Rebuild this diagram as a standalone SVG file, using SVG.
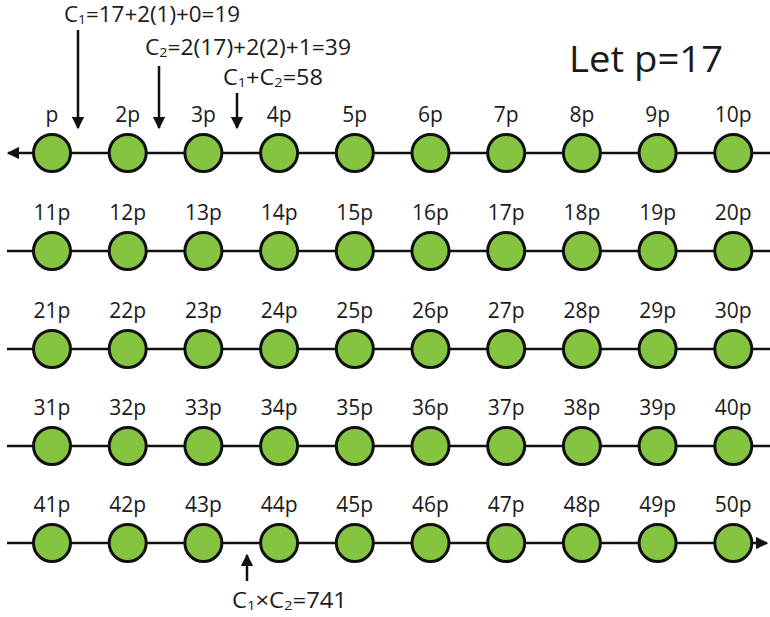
<svg xmlns="http://www.w3.org/2000/svg" width="770" height="617" viewBox="0 0 770 617">
<defs>
<style>
.ln{stroke:#111;stroke-width:2.5;fill:none}
.nd{fill:#85c441;stroke:#111;stroke-width:3}
.lb{font-family:"Open Sans","Liberation Sans",sans-serif;font-size:21px;fill:#1a1a1a;text-anchor:middle}
.an{font-family:"Open Sans","Liberation Sans",sans-serif;font-size:21px;fill:#1a1a1a}
.sb{font-size:13px}
</style>
<marker id="ah" viewBox="0 0 10 10" refX="9" refY="5" markerWidth="5" markerHeight="5" orient="auto-start-reverse" markerUnits="strokeWidth">
<path d="M0,0 L10,5 L0,10 z" fill="#111"/>
</marker>
</defs>
<rect width="770" height="617" fill="#fff"/>
<g id="connectors">
<line class="ln" x1="8" y1="153" x2="770" y2="153" marker-start="url(#ah)"/>
<line class="ln" x1="7" y1="251" x2="770" y2="251"/>
<line class="ln" x1="7" y1="349" x2="770" y2="349"/>
<line class="ln" x1="7" y1="446" x2="770" y2="446"/>
<line class="ln" x1="7" y1="543" x2="767" y2="543" marker-end="url(#ah)"/>
<line class="ln" x1="78" y1="30" x2="78" y2="128" marker-end="url(#ah)"/>
<line class="ln" x1="159" y1="66" x2="159" y2="128" marker-end="url(#ah)"/>
<line class="ln" x1="237" y1="93" x2="237" y2="128" marker-end="url(#ah)"/>
<line class="ln" x1="247" y1="581" x2="247" y2="555" marker-end="url(#ah)"/>
</g>
<g id="annotations">
<text class="an" x="64" y="22" textLength="176" lengthAdjust="spacingAndGlyphs">C<tspan class="sb" dy="2">1</tspan><tspan dy="-2">=17+2(1)+0=19</tspan></text>
<text class="an" x="145" y="55" textLength="206" lengthAdjust="spacingAndGlyphs">C<tspan class="sb" dy="2">2</tspan><tspan dy="-2">=2(17)+2(2)+1=39</tspan></text>
<text class="an" x="223" y="85" textLength="100" lengthAdjust="spacingAndGlyphs">C<tspan class="sb" dy="2">1</tspan><tspan dy="-2">+C</tspan><tspan class="sb" dy="2">2</tspan><tspan dy="-2">=58</tspan></text>
<text class="an" x="232" y="608" textLength="115" lengthAdjust="spacingAndGlyphs">C<tspan class="sb" dy="2">1</tspan><tspan dy="-2">×C</tspan><tspan class="sb" dy="2">2</tspan><tspan dy="-2">=741</tspan></text>
<text x="569" y="72" font-family="Open Sans, Liberation Sans, sans-serif" font-size="37" fill="#1a1a1a" textLength="154" lengthAdjust="spacingAndGlyphs">Let p=17</text>
</g>
<g id="n1"><circle class="nd" cx="52" cy="153" r="18.5"/><text class="lb" x="52" y="122">p</text></g>
<g id="n2"><circle class="nd" cx="127.7" cy="153" r="18.5"/><text class="lb" x="127.7" y="122">2p</text></g>
<g id="n3"><circle class="nd" cx="203.4" cy="153" r="18.5"/><text class="lb" x="203.4" y="122">3p</text></g>
<g id="n4"><circle class="nd" cx="279.1" cy="153" r="18.5"/><text class="lb" x="279.1" y="122">4p</text></g>
<g id="n5"><circle class="nd" cx="354.8" cy="153" r="18.5"/><text class="lb" x="354.8" y="122">5p</text></g>
<g id="n6"><circle class="nd" cx="430.5" cy="153" r="18.5"/><text class="lb" x="430.5" y="122">6p</text></g>
<g id="n7"><circle class="nd" cx="506.2" cy="153" r="18.5"/><text class="lb" x="506.2" y="122">7p</text></g>
<g id="n8"><circle class="nd" cx="581.9" cy="153" r="18.5"/><text class="lb" x="581.9" y="122">8p</text></g>
<g id="n9"><circle class="nd" cx="657.6" cy="153" r="18.5"/><text class="lb" x="657.6" y="122">9p</text></g>
<g id="n10"><circle class="nd" cx="733.3" cy="153" r="18.5"/><text class="lb" x="733.3" y="122">10p</text></g>
<g id="n11"><circle class="nd" cx="52" cy="251" r="18.5"/><text class="lb" x="52" y="220">11p</text></g>
<g id="n12"><circle class="nd" cx="127.7" cy="251" r="18.5"/><text class="lb" x="127.7" y="220">12p</text></g>
<g id="n13"><circle class="nd" cx="203.4" cy="251" r="18.5"/><text class="lb" x="203.4" y="220">13p</text></g>
<g id="n14"><circle class="nd" cx="279.1" cy="251" r="18.5"/><text class="lb" x="279.1" y="220">14p</text></g>
<g id="n15"><circle class="nd" cx="354.8" cy="251" r="18.5"/><text class="lb" x="354.8" y="220">15p</text></g>
<g id="n16"><circle class="nd" cx="430.5" cy="251" r="18.5"/><text class="lb" x="430.5" y="220">16p</text></g>
<g id="n17"><circle class="nd" cx="506.2" cy="251" r="18.5"/><text class="lb" x="506.2" y="220">17p</text></g>
<g id="n18"><circle class="nd" cx="581.9" cy="251" r="18.5"/><text class="lb" x="581.9" y="220">18p</text></g>
<g id="n19"><circle class="nd" cx="657.6" cy="251" r="18.5"/><text class="lb" x="657.6" y="220">19p</text></g>
<g id="n20"><circle class="nd" cx="733.3" cy="251" r="18.5"/><text class="lb" x="733.3" y="220">20p</text></g>
<g id="n21"><circle class="nd" cx="52" cy="349" r="18.5"/><text class="lb" x="52" y="318">21p</text></g>
<g id="n22"><circle class="nd" cx="127.7" cy="349" r="18.5"/><text class="lb" x="127.7" y="318">22p</text></g>
<g id="n23"><circle class="nd" cx="203.4" cy="349" r="18.5"/><text class="lb" x="203.4" y="318">23p</text></g>
<g id="n24"><circle class="nd" cx="279.1" cy="349" r="18.5"/><text class="lb" x="279.1" y="318">24p</text></g>
<g id="n25"><circle class="nd" cx="354.8" cy="349" r="18.5"/><text class="lb" x="354.8" y="318">25p</text></g>
<g id="n26"><circle class="nd" cx="430.5" cy="349" r="18.5"/><text class="lb" x="430.5" y="318">26p</text></g>
<g id="n27"><circle class="nd" cx="506.2" cy="349" r="18.5"/><text class="lb" x="506.2" y="318">27p</text></g>
<g id="n28"><circle class="nd" cx="581.9" cy="349" r="18.5"/><text class="lb" x="581.9" y="318">28p</text></g>
<g id="n29"><circle class="nd" cx="657.6" cy="349" r="18.5"/><text class="lb" x="657.6" y="318">29p</text></g>
<g id="n30"><circle class="nd" cx="733.3" cy="349" r="18.5"/><text class="lb" x="733.3" y="318">30p</text></g>
<g id="n31"><circle class="nd" cx="52" cy="446" r="18.5"/><text class="lb" x="52" y="415">31p</text></g>
<g id="n32"><circle class="nd" cx="127.7" cy="446" r="18.5"/><text class="lb" x="127.7" y="415">32p</text></g>
<g id="n33"><circle class="nd" cx="203.4" cy="446" r="18.5"/><text class="lb" x="203.4" y="415">33p</text></g>
<g id="n34"><circle class="nd" cx="279.1" cy="446" r="18.5"/><text class="lb" x="279.1" y="415">34p</text></g>
<g id="n35"><circle class="nd" cx="354.8" cy="446" r="18.5"/><text class="lb" x="354.8" y="415">35p</text></g>
<g id="n36"><circle class="nd" cx="430.5" cy="446" r="18.5"/><text class="lb" x="430.5" y="415">36p</text></g>
<g id="n37"><circle class="nd" cx="506.2" cy="446" r="18.5"/><text class="lb" x="506.2" y="415">37p</text></g>
<g id="n38"><circle class="nd" cx="581.9" cy="446" r="18.5"/><text class="lb" x="581.9" y="415">38p</text></g>
<g id="n39"><circle class="nd" cx="657.6" cy="446" r="18.5"/><text class="lb" x="657.6" y="415">39p</text></g>
<g id="n40"><circle class="nd" cx="733.3" cy="446" r="18.5"/><text class="lb" x="733.3" y="415">40p</text></g>
<g id="n41"><circle class="nd" cx="52" cy="543" r="18.5"/><text class="lb" x="52" y="512">41p</text></g>
<g id="n42"><circle class="nd" cx="127.7" cy="543" r="18.5"/><text class="lb" x="127.7" y="512">42p</text></g>
<g id="n43"><circle class="nd" cx="203.4" cy="543" r="18.5"/><text class="lb" x="203.4" y="512">43p</text></g>
<g id="n44"><circle class="nd" cx="279.1" cy="543" r="18.5"/><text class="lb" x="279.1" y="512">44p</text></g>
<g id="n45"><circle class="nd" cx="354.8" cy="543" r="18.5"/><text class="lb" x="354.8" y="512">45p</text></g>
<g id="n46"><circle class="nd" cx="430.5" cy="543" r="18.5"/><text class="lb" x="430.5" y="512">46p</text></g>
<g id="n47"><circle class="nd" cx="506.2" cy="543" r="18.5"/><text class="lb" x="506.2" y="512">47p</text></g>
<g id="n48"><circle class="nd" cx="581.9" cy="543" r="18.5"/><text class="lb" x="581.9" y="512">48p</text></g>
<g id="n49"><circle class="nd" cx="657.6" cy="543" r="18.5"/><text class="lb" x="657.6" y="512">49p</text></g>
<g id="n50"><circle class="nd" cx="733.3" cy="543" r="18.5"/><text class="lb" x="733.3" y="512">50p</text></g>
</svg>
